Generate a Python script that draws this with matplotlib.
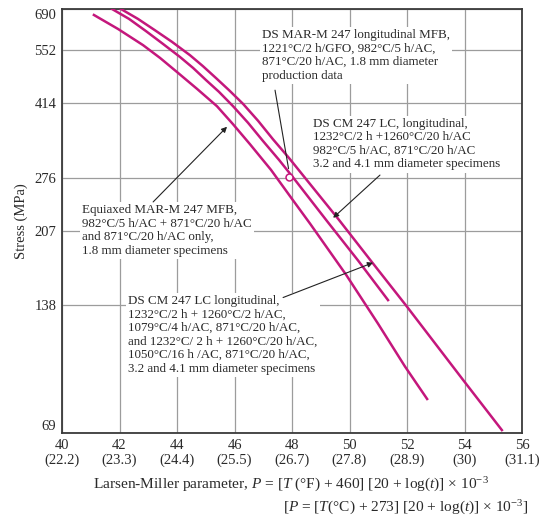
import numpy as np
import matplotlib
matplotlib.use("Agg")
import matplotlib.pyplot as plt

plt.rcParams['font.family'] = ['Liberation Serif', 'DejaVu Serif']
plt.rcParams['mathtext.fontset'] = 'custom'
plt.rcParams['mathtext.rm'] = 'Liberation Serif'
plt.rcParams['mathtext.it'] = 'Liberation Serif:italic'

# Larsen-Miller parameter (x) vs stress in MPa (y)
lmp_equiaxed = [41.11, 41.95, 42.82, 43.41, 44.00, 44.70, 45.39, 45.95, 46.54, 47.27,
                48.00, 48.63, 49.88, 50.99, 51.93, 52.70]
mpa_equiaxed = [668, 619, 567, 529, 490, 447, 407, 369, 331, 288,
                246, 215, 163, 125, 99, 83]

lmp_ds_marm = [41.74, 42.33, 42.92, 43.51, 44.10, 44.56, 45.01, 45.46, 45.95, 46.47,
               46.99, 47.55, 48.10, 49.22, 50.30, 51.34]
mpa_ds_marm = [690, 654, 612, 571, 532, 501, 469, 440, 407, 372,
               337, 304, 273, 218, 176, 142]

lmp_ds_cm247 = [42.05, 42.64, 43.23, 43.83, 44.45, 44.90, 45.36, 45.81, 46.30, 46.82,
                47.34, 47.90, 48.45, 49.60, 50.71, 52.00, 53.98, 55.30]
mpa_ds_cm247 = [690, 654, 615, 577, 537, 506, 474, 444, 412, 376,
                340, 307, 276, 221, 177, 137, 91.5, 70.1]

# single production data point
point_lmp = [47.9]
point_mpa = [277]

x_ticks = [40, 42, 44, 46, 48, 50, 52, 54, 56]
x_ticks_c = ["22.2", "23.3", "24.4", "25.5", "26.7", "27.8", "28.9", "30", "31.1"]
y_ticks = [69, 138, 207, 276, 414, 552, 690]

line_color = '#c4177c'
txt_color = '#2a2a2a'

fig = plt.figure(figsize=(5.57, 5.27), dpi=100)
ax = fig.add_axes([62 / 557, 1 - 433 / 527, 460 / 557, 424 / 527])

ax.set_yscale('log')
ax.set_xlim(40, 56)
ax.set_ylim(69, 690)
ax.set_xticks(x_ticks)
ax.set_xticklabels([f"{a}\n({b})" for a, b in zip(x_ticks, x_ticks_c)],
                   fontsize=10.5, color=txt_color, linespacing=1.15)
ax.set_yticks(y_ticks)
ax.set_yticklabels([str(v) for v in y_ticks], fontsize=10.5, color=txt_color)
ytl = ax.get_yticklabels()
ytl[0].set_va('bottom')
ytl[-1].set_va('top')
ax.minorticks_off()
ax.tick_params(length=0, pad=4)
ax.grid(True, color='#9c9c9c', lw=0.9)
ax.set_axisbelow(True)
for s in ax.spines.values():
    s.set_color('#3a3a3a')
    s.set_linewidth(1.3)

ax.plot(lmp_equiaxed, mpa_equiaxed, color=line_color, lw=1.8, zorder=3)
ax.plot(lmp_ds_marm, mpa_ds_marm, color=line_color, lw=1.8, zorder=3)
ax.plot(lmp_ds_cm247, mpa_ds_cm247, color=line_color, lw=1.8, zorder=3)
ax.plot(point_lmp, point_mpa, 'o', mfc='white', mec=line_color, ms=5, mew=1.1, zorder=4)

box = dict(facecolor='white', edgecolor='none', pad=1.5)
lbl = dict(fontsize=9.4, color=txt_color, ha='left', va='top', linespacing=1.17, bbox=box, zorder=5)

ax.text(46.97, 619, "DS MAR-M 247 longitudinal MFB,\n1221\u00b0C/2 h/GFO, 982\u00b0C/5 h/AC,\n"
        "871\u00b0C/20 h/AC, 1.8 mm diameter\nproduction data", **lbl)
ax.text(48.73, 382, "DS CM 247 LC, longitudinal,\n1232\u00b0C/2 h +1260\u00b0C/20 h/AC\n"
        "982\u00b0C/5 h/AC, 871\u00b0C/20 h/AC\n3.2 and 4.1 mm diameter specimens", **lbl)
ax.text(40.70, 239, "Equiaxed MAR-M 247 MFB,\n982\u00b0C/5 h/AC + 871\u00b0C/20 h/AC\n"
        "and 871\u00b0C/20 h/AC only,\n1.8 mm diameter specimens", **lbl)
ax.text(42.30, 146, "DS CM 247 LC longitudinal,\n1232\u00b0C/2 h + 1260\u00b0C/2 h/AC,\n"
        "1079\u00b0C/4 h/AC, 871\u00b0C/20 h/AC,\nand 1232\u00b0C/ 2 h + 1260\u00b0C/20 h/AC,\n"
        "1050\u00b0C/16 h /AC, 871\u00b0C/20 h/AC,\n3.2 and 4.1 mm diameter specimens", **lbl)

head = dict(arrowstyle='-|>', color='#222222', lw=0.8, mutation_scale=8, shrinkA=0, shrinkB=0)
ax.annotate("", xy=(47.88, 290), xytext=(47.41, 444),
            arrowprops=dict(arrowstyle='-', color='#222222', lw=0.8, shrinkA=0, shrinkB=0), zorder=6)
ax.annotate("", xy=(49.43, 222), xytext=(51.06, 280), arrowprops=head, zorder=6)
ax.annotate("", xy=(45.74, 364), xytext=(43.17, 242), arrowprops=head, zorder=6)
ax.annotate("", xy=(50.82, 174), xytext=(47.69, 144), arrowprops=head, zorder=6)

ax.set_ylabel("Stress (MPa)", fontsize=10.5, color=txt_color, labelpad=5)

fig.text(291 / 557, 1 - 485 / 527,
         "Larsen-Miller parameter, $P$ = [$T$ (\u00b0F) + 460] [20 + log($t$)] \u00d7 10$^{-3}$",
         fontsize=11.1, color=txt_color, ha='center', va='center')
fig.text(528 / 557, 1 - 508 / 527,
         "[$P$ = [$T$(\u00b0C) + 273] [20 + log($t$)] \u00d7 10$^{-3}$]",
         fontsize=11.1, color=txt_color, ha='right', va='center')

fig.savefig("out.png", dpi=100)
